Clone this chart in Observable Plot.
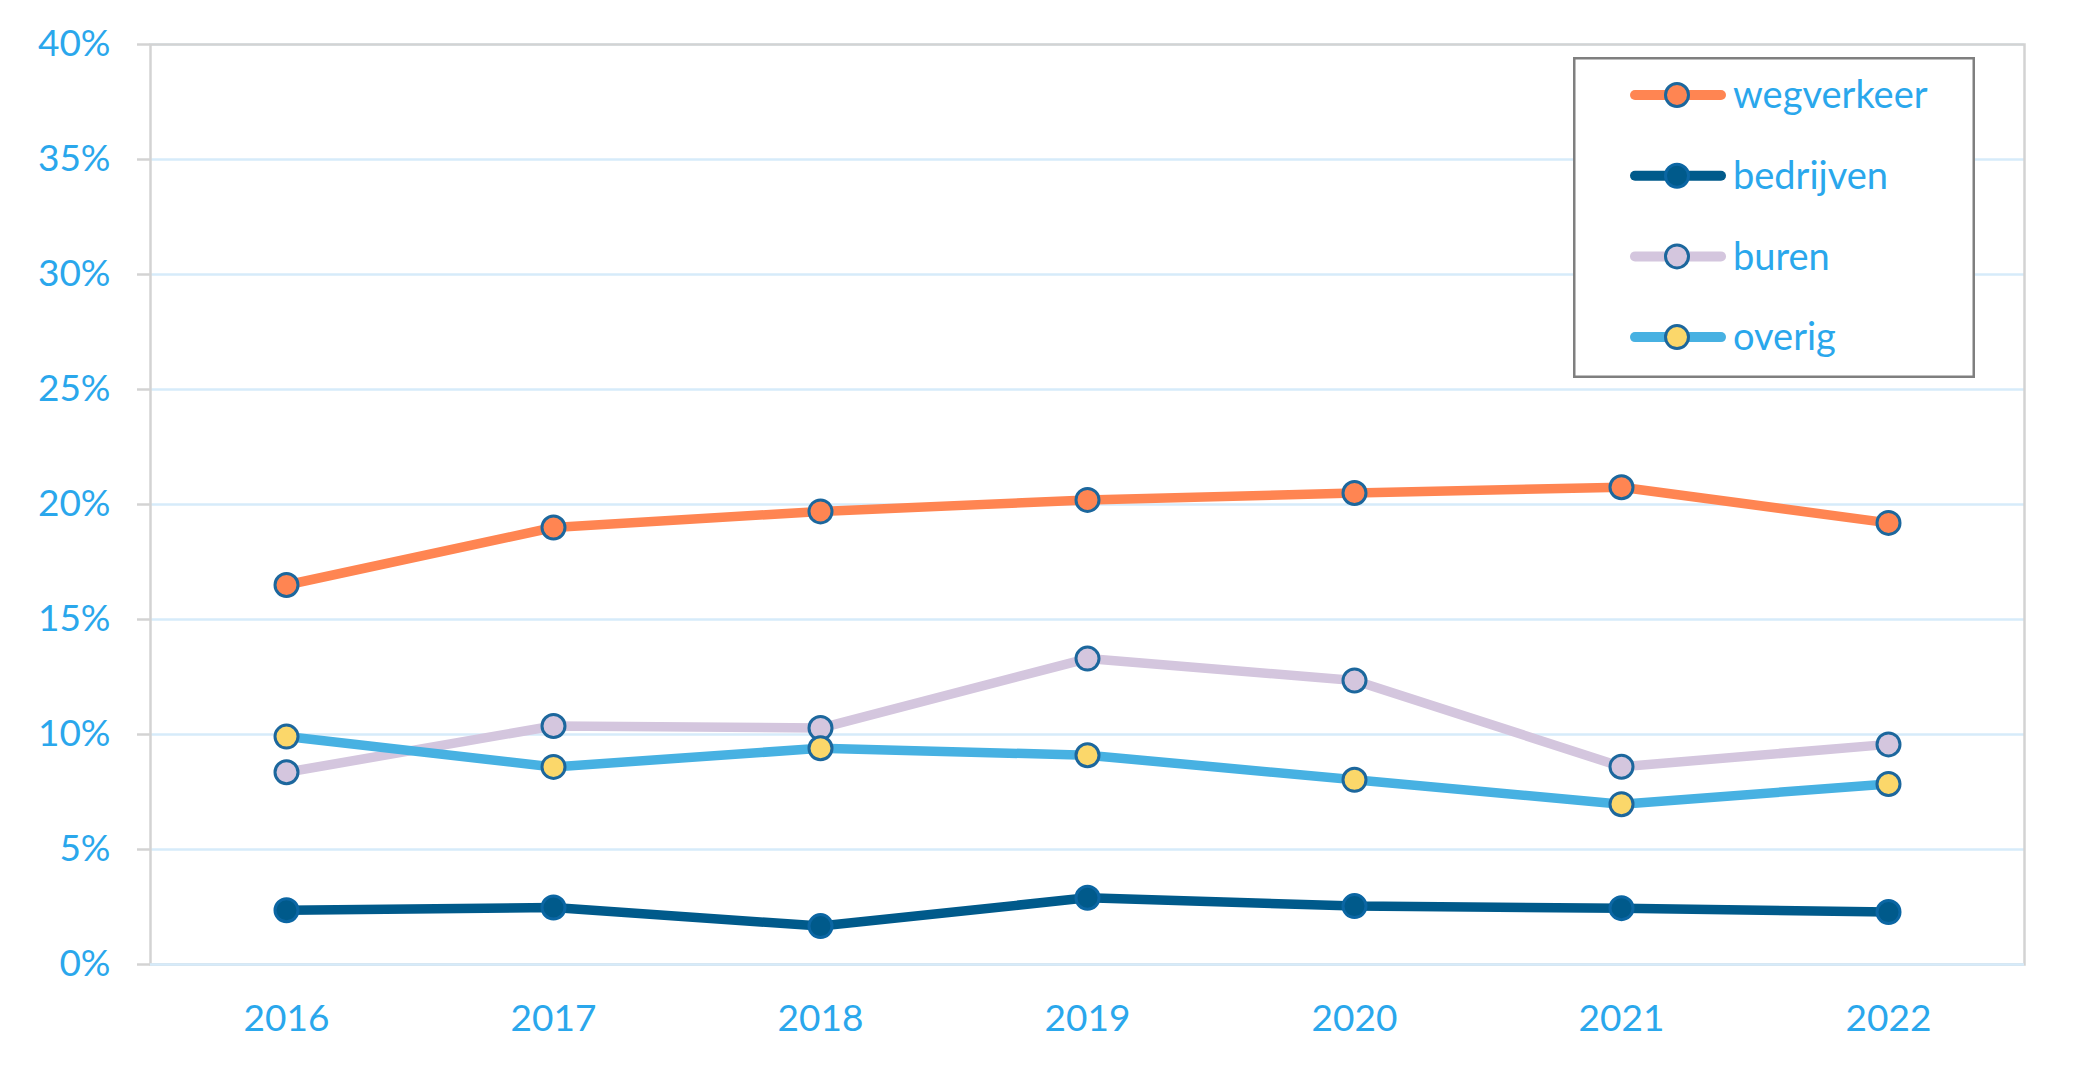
<!DOCTYPE html>
<html>
<head>
<meta charset="utf-8">
<script src="https://cdn.jsdelivr.net/npm/d3@7"></script>
<script src="https://cdn.jsdelivr.net/npm/@observablehq/plot@0.6"></script>
<style>
  html, body { margin: 0; padding: 0; background: #fff; }
  #wrap { position: relative; width: 2079px; height: 1065px; }
  #legend { position: absolute; left: 1573px; top: 57px; }
</style>
</head>
<body>
<div id="wrap"><div id="chart"></div><div id="legend"></div></div>
<script>
const years = [2016, 2017, 2018, 2019, 2020, 2021, 2022];
const wegverkeer = [16.5, 19.0, 19.7, 20.2, 20.5, 20.75, 19.2];
const bedrijven  = [2.36, 2.48, 1.67, 2.9, 2.54, 2.45, 2.28];
const buren      = [8.36, 10.37, 10.28, 13.3, 12.35, 8.6, 9.57];
const overig     = [9.91, 8.59, 9.4, 9.1, 8.03, 6.97, 7.85];
const seriesNames = ["wegverkeer", "bedrijven", "buren", "overig"];
const yTicks = [0, 0.05, 0.10, 0.15, 0.20, 0.25, 0.30, 0.35, 0.40];

const seriesValues = {wegverkeer, bedrijven, buren, overig};
const styles = {
  wegverkeer: {line: "#ff8552", fill: "#ff8552", stroke: "#1c679d"},
  bedrijven:  {line: "#005a8b", fill: "#005a8b", stroke: "#0b66a3"},
  buren:      {line: "#d4c6de", fill: "#d4c6de", stroke: "#1c679d"},
  overig:     {line: "#47b1e2", fill: "#fbd76a", stroke: "#1c679d"}
};
const textColor = "#2aa7ec";
const gridColor = "#d6ebfa";
const frameColor = "#d3d3d3";
const font = "Lato, 'Open Sans', sans-serif";

const tables = seriesNames.map(name =>
  years.map((y, i) => ({year: String(y), value: seriesValues[name][i] / 100, name}))
);

const seriesMarks = tables.flatMap((data, k) => {
  const s = styles[seriesNames[k]];
  return [
    Plot.line(data, {x: "year", y: "value", stroke: s.line, strokeWidth: 9.5, strokeLinejoin: "round", strokeLinecap: "round"}),
    Plot.dot(data, {x: "year", y: "value", r: 11.5, fill: s.fill, stroke: s.stroke, strokeWidth: 3, symbol: "circle"})
  ];
});

const chart = Plot.plot({
  width: 2079,
  height: 1065,
  marginLeft: 150,
  marginRight: 55,
  marginTop: 44,
  marginBottom: 101,
  style: {fontFamily: font, fontSize: "37px", color: textColor, background: "#fff"},
  x: {type: "point", domain: years.map(String), padding: 0.5},
  y: {domain: [0, 0.4]},
  marks: [
    Plot.gridY(yTicks, {stroke: gridColor, strokeOpacity: 1, strokeWidth: 2.5}),
    Plot.frame({stroke: frameColor, strokeWidth: 2.5}),
    Plot.ruleY([0], {stroke: gridColor, strokeWidth: 2.5}),
    Plot.axisY({ticks: yTicks, tickFormat: d3.format(".0%"), tickSize: 13, tickPadding: 27,
      stroke: frameColor, strokeWidth: 2.5, fill: textColor, fontSize: 37, label: null}),
    Plot.axisX({tickSize: 0, tickPadding: 40, fill: textColor, fontSize: 37, label: null}),
    ...seriesMarks
  ]
});
document.getElementById("chart").appendChild(chart);

// Legend
const lw = 402, lh = 321;
const leg = d3.select("#legend").append("svg").attr("width", lw).attr("height", lh)
  .style("font-family", font);
leg.append("rect").attr("x", 1.25).attr("y", 1.25).attr("width", lw - 2.5).attr("height", lh - 2.5)
  .attr("fill", "#fff").attr("stroke", "#7f7f7f").attr("stroke-width", 2.5);
seriesNames.forEach((name, i) => {
  const s = styles[name];
  const cy = 38 + i * 80.7;
  leg.append("line").attr("x1", 62).attr("x2", 148).attr("y1", cy).attr("y2", cy)
    .attr("stroke", s.line).attr("stroke-width", 10).attr("stroke-linecap", "round");
  leg.append("circle").attr("cx", 104).attr("cy", cy).attr("r", 11.5)
    .attr("fill", s.fill).attr("stroke", s.stroke).attr("stroke-width", 3);
  leg.append("text").attr("x", 160).attr("y", cy).attr("dy", "0.35em")
    .attr("fill", textColor).attr("font-size", 38).text(name);
});
</script>
</body>
</html>
